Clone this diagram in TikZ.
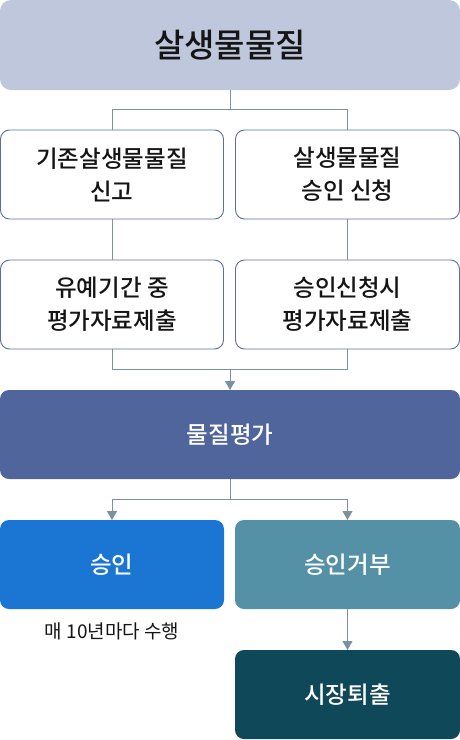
\documentclass[tikz,border=0pt]{standalone}
\usepackage{fontspec}
\setmainfont{Noto Sans CJK KR}[BoldFont={Noto Sans CJK KR Medium}]
\usetikzlibrary{arrows.meta}
\definecolor{topfill}{HTML}{BFC7DC}
\definecolor{boxline}{HTML}{5C6FA3}
\definecolor{evalfill}{HTML}{4F659C}
\definecolor{okfill}{HTML}{1A76D2}
\definecolor{rejfill}{HTML}{5591A6}
\definecolor{exitfill}{HTML}{0F4858}
\definecolor{conn}{HTML}{7B919B}
\definecolor{txt}{HTML}{151515}
\begin{document}
\begin{tikzpicture}[x=1pt,y=-1pt,
  base/.style={rounded corners=9pt, inner sep=0pt, outer sep=0pt, align=center, minimum height=89pt},
  whitebox/.style={base, draw=boxline, line width=0.9pt, fill=white, text=txt, font=\fontsize{23.5}{33}\selectfont\bfseries, minimum width=223pt},
  solidbox/.style={base, text=white, font=\fontsize{23.5}{33}\selectfont\bfseries},
  link/.style={draw=conn, line width=1pt},
  arr/.style={link, -{Triangle[width=10pt,length=9pt]}}
]
\useasboundingbox (0,0) rectangle (460,740);
\node[base, fill=topfill, text=txt, minimum width=460pt, minimum height=90pt, rounded corners=11pt, font=\fontsize{33}{38}\selectfont\bfseries] (top) at (230,45) {살생물물질};
\node[whitebox] (r1l) at (112,174.5) {기존살생물물질\\신고};
\node[whitebox, minimum width=224pt] (r1r) at (347.5,174.5) {살생물물질\\승인 신청};
\node[whitebox] (r2l) at (112,304.5) {유예기간 중\\평가자료제출};
\node[whitebox, minimum width=224pt] (r2r) at (347.5,304.5) {승인신청시\\평가자료제출};
\node[solidbox, fill=evalfill, minimum width=460pt] (eval) at (230,434.5) {물질평가};
\node[solidbox, fill=okfill, minimum width=224pt] (ok) at (112,564.5) {승인};
\node[solidbox, fill=rejfill, minimum width=225pt] (rej) at (347.5,564.5) {승인거부};
\node[text=txt, font=\fontsize{19}{22}\selectfont, inner sep=0pt] (note) at (112,631) {매 10년마다 수행};
\node[solidbox, fill=exitfill, minimum width=225pt] (exit) at (347.5,694.5) {시장퇴출};
\coordinate (j1) at (230,109.5);
\coordinate (j2) at (230,369.5);
\coordinate (j3) at (230,499.5);
\draw[link] (top.south) -- (j1) -| (r1l.north);
\draw[link] (j1) -| (r1r.north);
\draw[link] (r1l.south) -- (r2l.north);
\draw[link] (r1r.south) -- (r2r.north);
\draw[link] (r2l.south) |- (j2);
\draw[link] (r2r.south) |- (j2);
\draw[arr] (j2) -- (eval.north);
\draw[link] (eval.south) -- (j3);
\draw[arr] (j3) -| (ok.north);
\draw[arr] (j3) -| (rej.north);
\draw[arr] (rej.south) -- (exit.north);
\end{tikzpicture}
\end{document}
